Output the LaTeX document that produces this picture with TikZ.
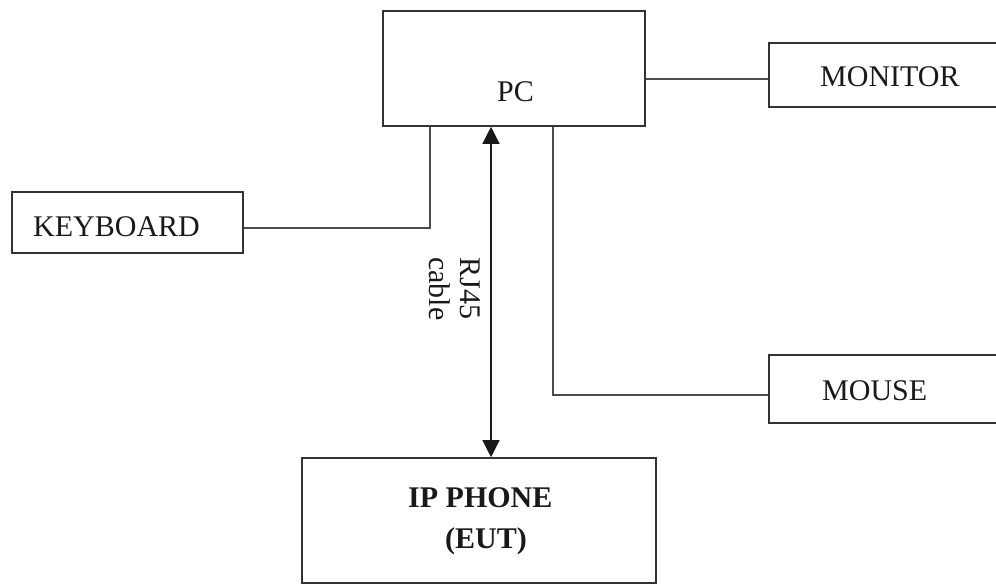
\documentclass[tikz,border=0pt]{standalone}
\usepackage{fontspec}
\setmainfont{Liberation Serif}
\usetikzlibrary{arrows.meta}

\begin{document}
\begin{tikzpicture}[x=1pt,y=-1pt,
    box/.style={draw=black!80, line width=1.6pt, inner sep=0pt},
    txt/.style={font=\fontsize{30}{35}\selectfont, text=black!90, inner sep=0pt, anchor=base west},
    wire/.style={draw=black!70, line width=1.3pt}]
      \useasboundingbox (0,0) rectangle (996,585);
      \clip (0,0) rectangle (996,585);
      % boxes
      \node[box, minimum width=262pt, minimum height=115pt] (pc) at (514,68.5) {};
      \node[box, minimum width=246pt, minimum height=64pt] (monitor) at (892,75) {};
      \node[box, minimum width=231pt, minimum height=61pt] (keyboard) at (127.5,222.5) {};
      \node[box, minimum width=246pt, minimum height=68pt] (mouse) at (892,389) {};
      \node[box, minimum width=354pt, minimum height=125pt] (phone) at (479,520.5) {};
      % texts
      \node[txt] (pctxt) at (497,102) {PC};
      \node[txt] (montxt) at (820,87) {MONITOR};
      \node[txt] (kbtxt) at (33,237) {KEYBOARD};
      \node[txt] (mstxt) at (822,400) {MOUSE};
      \node[txt, font=\fontsize{30}{35}\selectfont\bfseries] (phtxt) at (408,507) {IP PHONE};
      \node[txt, font=\fontsize{30}{35}\selectfont\bfseries] (euttxt) at (445,548) {(EUT)};
      \node[txt, font=\fontsize{30}{31}\selectfont, anchor=center, rotate=-90, align=left] (cablelbl) at (455,289) {RJ45\\cable};
      % connections
      \draw[wire] (pc.east |- 0,79) -- ([yshift=-4pt]monitor.west);
      \draw[wire] ([yshift=-5.5pt]keyboard.east) -| ([xshift=-84pt]pc.south);
      \draw[wire] ([xshift=39pt]pc.south) |- ([yshift=-6pt]mouse.west);
      \draw[wire, draw=black!90, {Triangle[length=17pt,width=17pt]}-{Triangle[length=17pt,width=17pt]}]
        ([xshift=-23pt]pc.south) -- ([xshift=-23pt]pc.south |- phone.north);
\end{tikzpicture}
\end{document}
